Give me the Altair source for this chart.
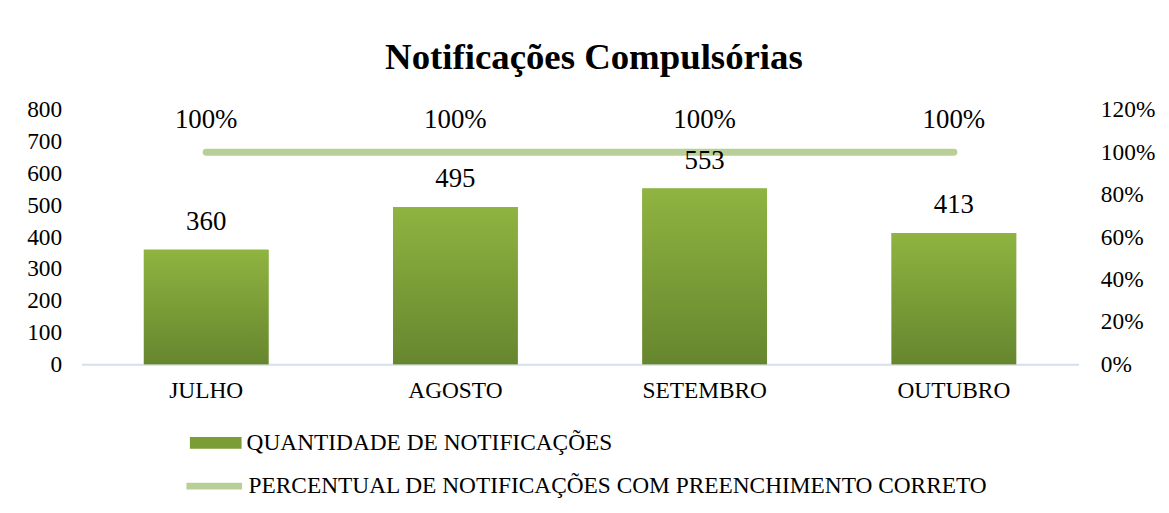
import altair as alt
import pandas as pd

months = ["JULHO", "AGOSTO", "SETEMBRO", "OUTUBRO"]
quantidade = [360, 495, 553, 413]
percentual = [1.0, 1.0, 1.0, 1.0]
serie_barra = "QUANTIDADE DE NOTIFICAÇÕES"
serie_linha = "PERCENTUAL DE NOTIFICAÇÕES COM PREENCHIMENTO CORRETO"

df = pd.DataFrame({
    "mes": months,
    "qtd": quantidade,
    "pct": percentual,
    "sb": [serie_barra] * 4,
    "sl": [serie_linha] * 4,
})

FONT = "Liberation Serif"
x = alt.X("mes:N", sort=months, title=None,
          scale=alt.Scale(paddingInner=0.5, paddingOuter=0.25),
          axis=alt.Axis(labelAngle=0, labelFontSize=23.5, labelFont=FONT, labelColor="#000000",
                        ticks=False, domainColor="#d5e0ee", domainWidth=2, labelPadding=14))

yq = alt.Y("qtd:Q", title=None,
           scale=alt.Scale(domain=[0, 800]),
           axis=alt.Axis(values=list(range(0, 801, 100)), orient="left", domain=False, ticks=False,
                         grid=False, labelFontSize=23.5, labelFont=FONT, labelColor="#000000",
                         labelPadding=20))

grad = alt.Gradient(gradient="linear", x1=0, x2=0, y1=0, y2=1,
                    stops=[alt.GradientStop(color="#8fb440", offset=0),
                           alt.GradientStop(color="#7a9d37", offset=0.5),
                           alt.GradientStop(color="#66862e", offset=1)])

bar_legend = alt.Chart(df).mark_bar().encode(
    x=x, y=yq,
    fill=alt.Fill("sb:N", scale=alt.Scale(range=["#7a9d37"]),
                  legend=alt.Legend(title=None, orient="none", legendX=109, legendY=309,
                                    symbolType="M-1,-0.23H1V0.23H-1Z", symbolSize=2704,
                                    symbolStrokeWidth=0, labelFontSize=23.5, labelFont=FONT,
                                    labelColor="#000000", labelOffset=5, padding=0,
                                    labelLimit=1000)),
)
bar_grad = alt.Chart(df).mark_bar(color=grad).encode(x=x, y=yq)
bar_text = alt.Chart(df).mark_text(dy=-28, fontSize=27, font=FONT, color="#000000", baseline="middle").encode(
    x=x, y=yq, text="qtd:Q")

left = alt.layer(bar_legend, bar_grad, bar_text)

yp = alt.Y("pct:Q", title=None,
           scale=alt.Scale(domain=[0, 1.2]),
           axis=alt.Axis(values=[0, 0.2, 0.4, 0.6, 0.8, 1.0, 1.2], format=".0%", orient="right",
                         domain=False, ticks=False, grid=False, labelFontSize=23.5, labelFont=FONT,
                         labelColor="#000000", labelPadding=22))

line = alt.Chart(df).mark_line(strokeWidth=7, strokeCap="round").encode(
    x=x, y=yp,
    stroke=alt.Stroke("sl:N", scale=alt.Scale(range=["#b8cf98"]),
                      legend=alt.Legend(title=None, orient="none", legendX=102, legendY=347,
                                        symbolType="stroke", symbolSize=3136, symbolStrokeWidth=7,
                                        labelFontSize=23.5, labelFont=FONT, labelColor="#000000",
                                        labelOffset=3, padding=0, labelLimit=1000)),
)
line_text = alt.Chart(df).mark_text(dy=-32, fontSize=27, font=FONT, color="#000000", baseline="middle").encode(
    x=x, y=yp, text=alt.Text("pct:Q", format=".0%"))

right = alt.layer(line, line_text)

chart = alt.layer(right, left).resolve_scale(y="independent", fill="independent", stroke="independent").properties(
    width=1003, height=256,
    padding={"left": 74, "top": 101, "right": 83, "bottom": 140},
    autosize=alt.AutoSizeParams(type="none"),
    background="#ffffff",
    title=alt.TitleParams("Notificações Compulsórias", font=FONT, fontSize=37, fontWeight="bold",
                          color="#000000", anchor="middle", offset=21, dx=14),
).configure_view(stroke=None)

chart.save("out.html", embed_options={"renderer": "svg", "actions": False})
